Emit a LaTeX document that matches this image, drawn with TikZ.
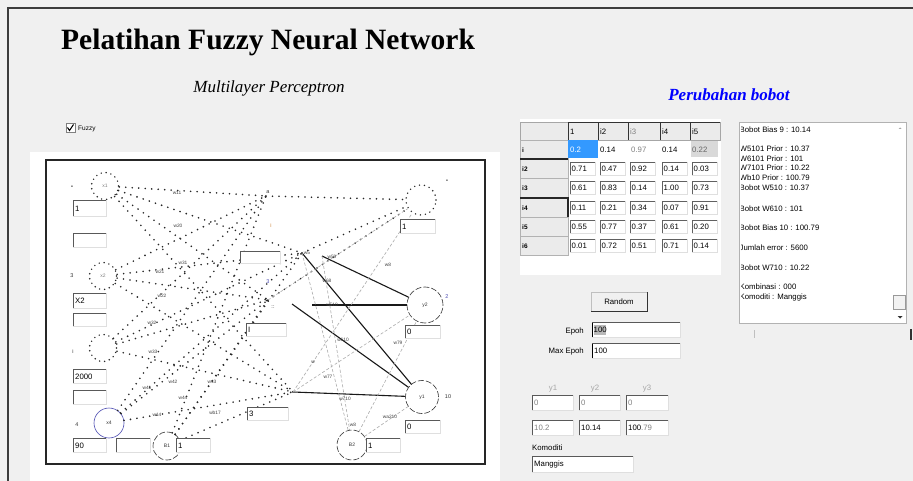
\documentclass[tikz,border=0pt]{standalone}
\usepackage{fontspec}
\setmainfont{Liberation Serif}
\setsansfont{Liberation Sans}
\usetikzlibrary{calc}
\definecolor{bgc}{HTML}{F0F0F0}
\definecolor{selb}{HTML}{3399FF}
\definecolor{frm}{HTML}{3C3C3C}
\definecolor{hdr}{HTML}{EBEBEB}
\newcommand{\tbx}[6]{% x1,y1,x2,y2,text,name
  \fill[white] (#1,#2) rectangle (#3,#4);
  \draw[gray!25] (#3,#2) -- (#3,#4) -- (#1,#4);
  \draw[gray!70!black, line width=0.9pt] (#1,#4) -- (#1,#2) -- (#3,#2);
  \node[gui, anchor=west] (#6) at ({#1+2},{(#2+#4)/2+0.5}) {#5};}
\begin{document}
\begin{tikzpicture}[x=1pt,y=-1pt,
  gui/.style={font=\sffamily\fontsize{7.8}{8}\selectfont, inner sep=0pt},
  wl/.style={font=\sffamily\fontsize{4.8}{5}\selectfont, text=black!75, inner sep=0pt},
  dotl/.style={line width=1.8pt, dash pattern=on 0pt off 6.5pt, line cap=round, black!85},
  gdash/.style={gray!65, dash pattern=on 3pt off 2pt, line width=0.6pt},
  sol/.style={black!90, line width=1.1pt},
  dcirc/.style={circle, inner sep=0pt, minimum size=27pt, draw=black!85, line width=1.6pt,
     dash pattern=on 0pt off 5pt, line cap=round, font=\sffamily\fontsize{5}{5}\selectfont, text=gray},
  ocirc/.style={circle, inner sep=0pt, draw=black!80, line width=0.6pt, dash pattern=on 6pt off 2pt,
     font=\sffamily\fontsize{5}{5}\selectfont, text=black!80},
  sm/.style={font=\sffamily\fontsize{5.5}{6}\selectfont, inner sep=0pt, text=black!80}]
\useasboundingbox (0,0) rectangle (913,481);
\fill[bgc] (0,0) rectangle (913,481);
\draw[frm, line width=1.5pt] (8,481) -- (8,8) -- (913,8);

% titles
\node[font=\bfseries\fontsize{29.5}{31}\selectfont, anchor=west, inner sep=0pt] (title) at (61,42) {Pelatihan Fuzzy Neural Network};
\node[font=\itshape\fontsize{17}{19}\selectfont, inner sep=0pt] (mlp) at (269,88) {Multilayer Perceptron};
\node[font=\bfseries\itshape\fontsize{17}{19}\selectfont, text=blue, inner sep=0pt] (pb) at (729,95) {Perubahan bobot};

% checkbox
\draw[fill=white, draw=gray] (66,123) rectangle (75,132);
\draw[line width=1pt] (67.5,127.5) -- (69.5,130.5) -- (73.5,124.5);
\node[font=\sffamily\fontsize{6.5}{7}\selectfont, anchor=west, inner sep=0pt] (fz) at (78,128.5) {Fuzzy};

% network panel
\fill[white] (30,152) rectangle (500,481);
\draw[line width=1.8pt, black!85] (46,160) rectangle (485,464);

% input nodes
\node[dcirc] (x1) at (105,186) {x1};
\node[dcirc] (x2) at (103,276) {x2};
\node[dcirc] (x3) at (103,348) {};
\node[ocirc, minimum size=30pt, draw=gray!60!blue, dash pattern=on 20pt off 0pt] (x4) at (109,423) {x4};
\node[ocirc, minimum size=28pt] (b1) at (167,446) {B1};
\node[sm] (l1) at (72,187) {\textbullet};
\node[sm] (l2) at (72,276) {3};
\node[sm] (l3) at (73,352) {i};
\node[sm] (l4) at (77,425) {4};

% hidden coordinates
\coordinate (ha) at (266,196);
\coordinate (hb) at (302,253);
\coordinate (hc) at (268,300);
\coordinate (hd) at (293,392);
\coordinate (hb2) at (322,256);
\coordinate (hc2) at (292,304);
\coordinate (hx) at (312,305);
\node[sm] (ta) at (268,192) {a};
\node[sm, text=orange!60!gray] (ti) at (271,226) {i};
\node[sm, text=blue!40!gray] (t3) at (268,282) {3};
\node[sm] (tdd) at (273,307) {::};

% output nodes
\node[dcirc, minimum size=30pt] (r) at (421,200) {};
\node[ocirc, minimum size=36pt] (y2) at (425,305) {y2};
\node[ocirc, minimum size=33pt] (y1) at (422,397) {y1};
\node[ocirc, minimum size=30pt] (b2) at (352,445) {B2};
\node[sm] (t10) at (448,397) {10};
\node[sm, text=blue!40!gray] (t2) at (447,297) {2};
\node[sm] (tdot) at (447,181) {\textbullet};

% dotted connections input -> hidden
\foreach \i in {x1,x2,x3,x4,b1}{
  \foreach \h in {ha,hb,hc,hd}{
    \draw[dotl] (\i) -- (\h);
  }
}
\foreach \h in {ha,hb,hc}{ \draw[dotl] (\h) -- (r); }

% solid connections
\draw[sol] (hb) -- (y1);
\draw[sol] (hb2) -- (y2);
\draw[sol] (hx) -- (y2);
\draw[sol] (hc2) -- (y1);
\draw[sol] (hd) -- (y1);
% gray dashed
\draw[gdash] (hb) -- (b2);
\draw[gdash] (hd) -- (y2);
\draw[gdash] (hd) -- (r);
\draw[gdash] (b2) -- (y2);
\draw[gdash] (b2) -- (y1);
\draw[gdash] (hc) -- (r);
\draw[gdash] (hb2) -- (b2);

% weight labels
\foreach \p/\t [count=\k] in {{177,193}/w11,{178,226}/w20,{183,263}/w31,{160,272}/w21,{162,296}/w22,
   {152,323}/w32,{153,352}/w33,{147,388}/w41,{173,382}/w42,{212,382}/w43,{183,398}/w44,{215,413}/wb17,
   {157,415}/w14,{307,253}/w5,{332,257}/w59,{327,281}/w68,{388,265}/w8,{332,305}/w510,{343,340}/w610,
   {398,343}/w79,{313,362}/w/10,{328,377}/w77,{345,399}/w710,{390,417}/wa210,{353,425}/w8}{
  \node[wl] (wl\k) at (\p) {\t};
}

% network text boxes
\tbx{73}{200}{106}{216}{1}{n1}
\tbx{73}{233}{106}{247}{}{n2}
\tbx{73}{293}{106}{308}{X2}{n3}
\tbx{73}{313}{106}{326}{}{n4}
\tbx{73}{369}{106}{383}{2000}{n5}
\tbx{73}{390}{106}{404}{}{n6}
\tbx{73}{438}{106}{452}{90}{n7}
\tbx{116}{438}{150}{452}{}{n8}
\tbx{176}{438}{210}{452}{1}{n9}
\tbx{240}{251}{280}{263}{}{n10}
\tbx{246}{323}{286}{336}{I}{n11}
\tbx{247}{407}{288}{420}{3}{n12}
\tbx{400}{219}{435}{233}{1}{n13}
\tbx{405}{325}{440}{338}{0}{n14}
\tbx{405}{420}{440}{433}{0}{n15}
\tbx{366}{438}{400}{452}{1}{n16}

% ---------- weight table ----------
\fill[white] (520,119) rectangle (721,275);
\draw[fill=hdr, draw=gray!70] (520,122) rectangle (568,140);
\foreach \xa/\xb/\t/\c [count=\k] in {568/598/1/black, 598/628/i2/black, 628/660/i3/gray, 660/690/i4/black, 690/720/i5/black}{
  \draw[fill=hdr, draw=gray!70] (\xa,122) rectangle (\xb,140);
  \draw[black!80, line width=0.9pt] (\xa,140) -- (\xa,122) -- (\xb,122);
  \node[gui, anchor=west, text=\c] (h\k) at (\xa+2,131.5) {\t};
}
% row headers
\foreach \yt/\yb/\lab [count=\k] in {140/159/i, 159/178/i2, 178/198/i3, 198/217/i4, 217/236/i5, 236/255/i6}{
  \draw[fill=hdr, draw=gray!60] (520,\yt) rectangle (568,\yb);
  \node[gui, anchor=west, font=\sffamily\bfseries\fontsize{6.5}{7}\selectfont] (rh\k) at (522,{(\yt+\yb)/2+0.5}) {\lab};
}
\draw[black!85, line width=1.2pt] (520,159) -- (568,159);
\draw[black!85, line width=1.2pt] (520,198) -- (568,198) -- (568,217);
% row 1
\fill[selb] (568,140) rectangle (598,158);
\fill[gray!30] (691,141) rectangle (718,157);
\node[gui, anchor=west, text=white] (c11) at (570,149.5) {0.2};
\node[gui, anchor=west] (c12) at (600,149.5) {0.14};
\node[gui, anchor=west, text=gray] (c13) at (631,149.5) {0.97};
\node[gui, anchor=west] (c14) at (662,149.5) {0.14};
\node[gui, anchor=west, text=gray!80!black] (c15) at (692,149.5) {0.22};
% rows 2..6
\foreach \yt/\a/\b/\c/\d/\e [count=\r from 2] in {159/0.71/0.47/0.92/0.14/0.03, 178/0.61/0.83/0.14/1.00/0.73,
   198/0.11/0.21/0.34/0.07/0.91, 217/0.55/0.77/0.37/0.61/0.20, 236/0.01/0.72/0.51/0.71/0.14}{
  \foreach \xa/\v [count=\q] in {568/\a, 598/\b, 628/\c, 660/\d, 690/\e}{
    \fill[white] (\xa+2,\yt+3) rectangle (\xa+27,\yt+16);
    \draw[gray!75!black, line width=0.7pt] (\xa+2,\yt+16) -- (\xa+2,\yt+3) -- (\xa+27,\yt+3);
    \draw[gray!25] (\xa+27,\yt+3) -- (\xa+27,\yt+16) -- (\xa+2,\yt+16);
    \node[gui, anchor=west] (c\r\q) at (\xa+3.5,\yt+10) {\v};
  }
}

% ---------- log list box ----------
\draw[draw=gray!60, fill=white] (739,122) rectangle (906,323);
\begin{scope}
\clip (741.5,124) rectangle (890,321);
\foreach \yy/\t [count=\k] in {130/{Bobot Bias 9 : 10.14}, 149/{W5101 Prior : 10.37}, 158.5/{W6101 Prior : 101},
   168/{W7101 Prior : 10.22}, 177.5/{Wb10 Prior : 100.79}, 188/{Bobot W510 : 10.37}, 209/{Bobot W610 : 101},
   228/{Bobot Bias 10 : 100.79}, 248/{Jumlah error : 5600}, 267.5/{Bobot W710 : 10.22},
   287/{Kombinasi : 000}, 297/{Komoditi : Manggis}}{
  \node[gui, anchor=west] (lg\k) at (739.5,\yy) {\t};
}
\end{scope}
\fill[gray!70] (898.5,129) -- (901.5,129) -- (900,127.5) -- cycle;
\draw[fill=gray!10, draw=gray!80] (893,295) rectangle (905,309);
\fill[black!80] (897.5,316) -- (902.5,316) -- (900,318.5) -- cycle;
\draw[gray!50, line width=0.8pt] (754,330) -- (754,338);
\draw[black!80, line width=1.2pt] (911,329) -- (911,340);

% ---------- controls ----------
\draw[fill=bgc, draw=gray!50] (591,292) rectangle (647,311);
\draw[black!80, line width=0.9pt] (591,311) -- (647,311) -- (647,292);
\node[gui] (rnd) at (619,301.5) {Random};

\node[gui, anchor=east] (lep) at (584,331) {Epoh};
\tbx{592}{322}{680}{337}{}{ep}
\fill[gray!55] (593.5,324.5) rectangle (606,335);
\node[gui, anchor=west] (epv) at (593.5,330) {100};
\draw[black, line width=0.9pt] (592.5,323) -- (592.5,337);
\node[gui, anchor=east] (lmx) at (584,351) {Max Epoh};
\tbx{592}{343}{680}{358}{100}{mx}
\draw[black, line width=0.9pt] (592.5,344) -- (592.5,358);

\node[gui, text=gray!70] (ly1) at (553,389) {y1};
\node[gui, text=gray!70] (ly2) at (595,389) {y2};
\node[gui, text=gray!70] (ly3) at (647,389) {y3};
\tbx{532}{395}{573}{410}{\color{gray}0}{o1}
\tbx{579}{395}{620}{410}{\color{gray}0}{o2}
\tbx{626}{395}{668}{410}{\color{gray}0}{o3}
\tbx{532}{420}{573}{435}{\color{gray}10.2}{p1}
\tbx{579}{420}{620}{435}{10.14}{p2}
\tbx{626}{420}{668}{435}{100\color{gray}.79}{p3}
\node[gui, anchor=west] (lkm) at (532,448) {Komoditi};
\tbx{532}{456}{633}{472}{Manggis}{km}
\end{tikzpicture}
\end{document}
